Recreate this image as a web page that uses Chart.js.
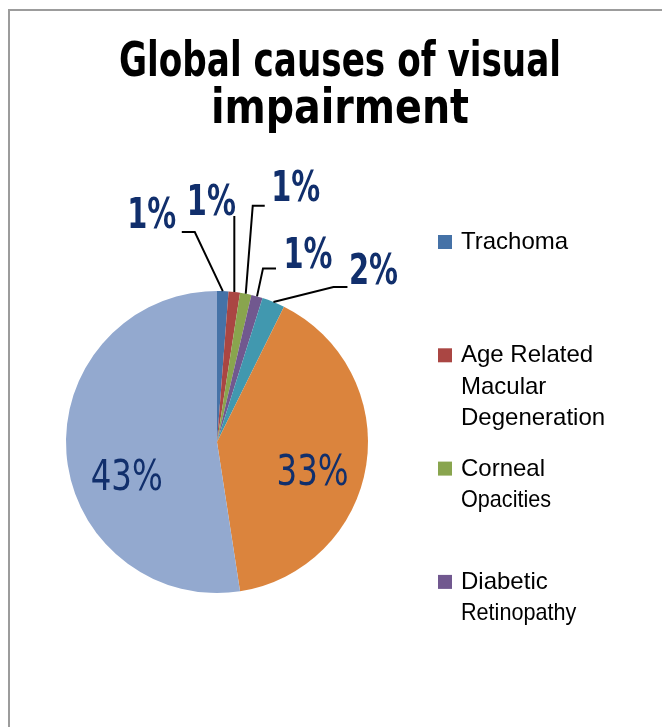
<!DOCTYPE html>
<html>
<head>
<meta charset="utf-8">
<script src="https://cdn.jsdelivr.net/npm/chart.js@4.4.1/dist/chart.umd.min.js"></script>
<style>
  html, body { margin: 0; padding: 0; background: #fff; }
  #wrap { width: 662px; height: 727px; }
</style>
</head>
<body>
<div id="wrap"><canvas id="visionChart" width="662" height="727"></canvas></div>
<script>
// ==========================
// DATA
// ==========================
const titleLines = ['Global causes of visual', 'impairment'];

const causes = ['Trachoma', 'Age Related Macular Degeneration', 'Corneal Opacities',
    'Diabetic Retinopathy', 'Glaucoma', 'Cataract', 'Refractive Errors'];

// legend text as it wraps in the picture (only the first four fit)
const legendLines = [['Trachoma'], ['Age Related', 'Macular', 'Degeneration'],
    ['Corneal', 'Opacities'], ['Diabetic', 'Retinopathy']];

const percentValues = [1, 1, 1, 1, 2, 33, 43];

const sliceColors = ['#4572A7', '#AA4643', '#89A54E', '#71588F', '#4198AF', '#DB843D', '#93A9CF'];


// ==========================
// LABEL PLACEMENT (offsets from the slice edge)
// ==========================
const callouts = [
    { elbow: [-28, -59], end: [-41, -59], text: [-71, -63] },
    { elbow: null,       end: [0, -76],   text: [-23, -77] },
    { elbow: [7, -88],   end: [19, -88],  text: [50, -93] },
    { elbow: [6, -28],   end: [19, -28],  text: [51, -28] },
    { elbow: [60, -15],  end: [74, -15],  text: [100, -18] },
    { inside: [6, 29] },
    { inside: [0, 41] }
];

const labelColor = '#112F6C';
const narrow = '"DejaVu Sans Condensed", "DejaVu Sans", sans-serif';


// ==========================
// PLUGIN: frame, title, labels, legend
// ==========================
const decorPlugin = {
    id: 'decor',

    beforeDraw(chart) {
        const ctx = chart.ctx;
        ctx.save();
        ctx.strokeStyle = '#9c9c9c';
        ctx.lineWidth = 2;
        ctx.beginPath();
        ctx.moveTo(9, 727);
        ctx.lineTo(9, 10);
        ctx.lineTo(662, 10);
        ctx.stroke();

        // the original face is much narrower, so squeeze each line
        ctx.fillStyle = '#000';
        ctx.textAlign = 'center';
        ctx.font = 'bold 48px ' + narrow;
        ctx.fillText(titleLines[0], 340, 76, 442);
        ctx.fillText(titleLines[1], 340, 123, 258);
        ctx.restore();
    },

    afterDatasetsDraw(chart) {
        const ctx = chart.ctx;
        const meta = chart.getDatasetMeta(0);

        ctx.save();
        meta.data.forEach((arc, i) => {
            const p = arc.getProps(['x', 'y', 'startAngle', 'endAngle', 'outerRadius'], true);
            const mid = (p.startAngle + p.endAngle) / 2;
            const c = callouts[i];
            const label = percentValues[i] + '%';
            ctx.fillStyle = labelColor;
            ctx.textAlign = 'center';
            ctx.textBaseline = 'alphabetic';

            if (c.inside) {
                const r = p.outerRadius * 0.6;
                const lx = p.x + Math.cos(mid) * r + c.inside[0];
                const ly = p.y + Math.sin(mid) * r + c.inside[1];
                ctx.font = '43px ' + narrow;
                ctx.fillText(label, lx, ly, 72);
                return;
            }

            const ex = p.x + Math.cos(mid) * p.outerRadius;
            const ey = p.y + Math.sin(mid) * p.outerRadius;

            ctx.strokeStyle = '#000';
            ctx.lineWidth = 2;
            ctx.beginPath();
            ctx.moveTo(ex, ey);
            if (c.elbow) ctx.lineTo(ex + c.elbow[0], ey + c.elbow[1]);
            ctx.lineTo(ex + c.end[0], ey + c.end[1]);
            ctx.stroke();

            ctx.font = 'bold 43px ' + narrow;
            ctx.fillText(label, ex + c.text[0], ey + c.text[1], 49);
        });
        ctx.restore();
    },

    afterDraw(chart) {
        const ctx = chart.ctx;
        ctx.save();
        ctx.textAlign = 'left';
        ctx.textBaseline = 'alphabetic';
        ctx.font = '24px "Liberation Sans", Arial, sans-serif';

        legendLines.forEach((lines, i) => {
            const base = 249 + i * 113.3;
            ctx.fillStyle = sliceColors[i];
            ctx.fillRect(438, base - 14, 14, 14);
            ctx.fillStyle = '#000';
            lines.forEach((txt, j) => {
                const y = base + j * 31.5;
                // second lines of the short items are squeezed in the original
                const sx = (j > 0 && lines.length === 2) ? 0.9 : 1;
                ctx.save();
                ctx.translate(461, y);
                ctx.scale(sx, 1);
                ctx.fillText(txt, 0, 0);
                ctx.restore();
            });
        });
        ctx.restore();
    }
};


// ==========================
// CHART
// ==========================
const ctx = document.getElementById('visionChart').getContext('2d');

const visionChart = new Chart(ctx, {

    type: 'pie',

    data: {
        labels: causes,
        datasets: [{
            data: percentValues,
            backgroundColor: sliceColors,
            borderWidth: 0
        }]
    },

    options: {
        responsive: false,
        animation: false,
        devicePixelRatio: 1,
        layout: {
            padding: { left: 66, right: 294, top: 291, bottom: 134 }
        },
        plugins: {
            legend: { display: false },
            title: { display: false },
            tooltip: { enabled: false }
        }
    },

    plugins: [decorPlugin]
});
</script>
</body>
</html>
